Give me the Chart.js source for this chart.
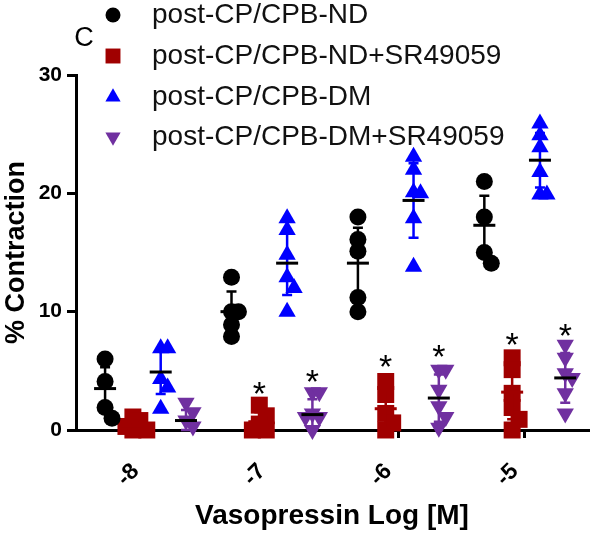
<!DOCTYPE html>
<html>
<head>
<meta charset="utf-8">
<script src="https://cdn.jsdelivr.net/npm/chart.js@4.4.0/dist/chart.umd.min.js"></script>
<style>
  html, body { margin: 0; padding: 0; background: #fff; }
</style>
</head>
<body>
<canvas id="myChart" width="600" height="533"></canvas>
<script>
// x categories (log M)
const doses = ['-8', '-7', '-6', '-5'];
const yTicks = [0, 10, 20, 30];

const names = ['post-CP/CPB-ND', 'post-CP/CPB-ND+SR49059', 'post-CP/CPB-DM', 'post-CP/CPB-DM+SR49059'];

// individual points per dose
const ndPoints = [[6.0, 4.1, 1.9, 1.0], [12.9, 10.0, 10.0, 8.9, 7.9], [18.0, 16.1, 15.1, 11.2, 10.0], [21.0, 18.0, 15.0, 14.1]];
const ndSrPoints = [[1.1, 0.8, 0.3, 0, 0], [2.1, 1.2, 0.5, 0, 0], [4.1, 3.0, 1.4, 0.6, 0], [6.1, 5.1, 3.1, 1.9, 0.9, 0]];
const dmPoints = [[6.9, 6.9, 4.3, 3.6, 1.8], [17.9, 16.9, 14.8, 12.9, 12.0, 10.0], [23.1, 22.0, 20.1, 20.0, 17.9, 13.8], [25.9, 24.9, 23.9, 21.8, 19.9, 19.9]];
const dmSrPoints = [[2.3, 1.5, 0.8, 0.3], [3.2, 3.2, 1.4, 1.1, 1.1, 0], [5.1, 5.1, 3.4, 2.0, 1.1, 0.2], [7.2, 6.1, 4.8, 4.4, 3.1, 1.4]];

// mean and SD bars
const ndMean = [3.5, 10.0, 14.1, 17.3];
const ndErr = [1.8, 1.7, 3.0, 2.5];
const ndSrMean = [0.3, 0.7, 1.8, 3.2];
const ndSrErr = [0.4, 0.8, 1.6, 2.3];
const dmMean = [4.9, 14.1, 19.4, 22.8];
const dmErr = [1.85, 2.7, 3.15, 2.3];
const dmSrMean = [0.8, 1.3, 2.7, 4.4];
const dmSrErr = [0.9, 1.3, 2.0, 2.1];

// significance stars (height of the asterisk)
const ndSrStars = [null, 3.8, 6.1, 7.9];
const dmSrStars = [null, 4.8, 6.9, 8.7];

const FONT = '"Liberation Sans", Arial, sans-serif';
const colors = ['#000000', '#a00000', '#0000ff', '#7030a0'];
const offsets = [-0.32, -0.1, 0.12, 0.32];
const styles = [
  { pointStyle: 'circle', radius: 8.5, rotation: 0 },
  { pointStyle: 'rect', radius: 12, rotation: 0 },
  { pointStyle: 'triangle', radius: 10, rotation: 0 },
  { pointStyle: 'triangle', radius: 10, rotation: 180 }
];
const allPoints = [ndPoints, ndSrPoints, dmPoints, dmSrPoints];
const means = [ndMean, ndSrMean, dmMean, dmSrMean];
const errs = [ndErr, ndSrErr, dmErr, dmSrErr];
const meanColors = ['#000000', '#a00000', '#000000', '#000000'];

// little beeswarm so overlapping points sit side by side
function spread(values, center) {
  const placed = [];
  const slots = [0, 1, -1, 2, -2, 3, -3];
  return values.map(v => {
    const k = slots.find(s => placed.every(p => p.k !== s || Math.abs(p.v - v) >= 1.0));
    placed.push({ k: k, v: v });
    return { x: center + k * 0.055, y: v };
  });
}

const datasets = allPoints.map((groups, i) => {
  let data = [];
  groups.forEach((vals, j) => { data = data.concat(spread(vals, j + offsets[i])); });
  return {
    label: names[i],
    data: data,
    backgroundColor: colors[i],
    borderColor: colors[i],
    borderWidth: 0,
    pointStyle: styles[i].pointStyle,
    pointRadius: styles[i].radius,
    pointHoverRadius: styles[i].radius,
    pointRotation: styles[i].rotation,
    clip: false
  };
});

const extras = {
  id: 'extras',
  afterDatasetsDraw(chart) {
    const ctx = chart.ctx;
    const x = chart.scales.x, y = chart.scales.y;
    ctx.save();
    means.forEach((m, i) => {
      m.forEach((v, j) => {
        const cx = x.getPixelForValue(j + offsets[i]);
        const top = y.getPixelForValue(v + errs[i][j]);
        const bot = y.getPixelForValue(Math.max(0, v - errs[i][j]));
        const mid = y.getPixelForValue(v);
        ctx.strokeStyle = colors[i];
        ctx.lineWidth = 2.5;
        ctx.beginPath();
        ctx.moveTo(cx, top); ctx.lineTo(cx, bot);
        ctx.moveTo(cx - 5, top); ctx.lineTo(cx + 5, top);
        ctx.moveTo(cx - 5, bot); ctx.lineTo(cx + 5, bot);
        ctx.stroke();
        ctx.lineWidth = 3;
        ctx.strokeStyle = meanColors[i];
        ctx.beginPath();
        ctx.moveTo(cx - 11, mid); ctx.lineTo(cx + 11, mid);
        ctx.stroke();
      });
    });
    // stars
    ctx.fillStyle = '#000';
    ctx.font = '34px ' + FONT;
    ctx.textAlign = 'center';
    ctx.textBaseline = 'alphabetic';
    [[ndSrStars, 1], [dmSrStars, 3]].forEach(([stars, i]) => {
      stars.forEach((s, j) => {
        if (s === null) return;
        ctx.fillText('*', x.getPixelForValue(j + offsets[i]), y.getPixelForValue(s) + 0.58 * 34);
      });
    });
    ctx.restore();
  },
  afterDraw(chart) {
    const ctx = chart.ctx;
    ctx.save();
    ctx.fillStyle = '#000';
    ctx.font = '27px ' + FONT;
    ctx.textAlign = 'center';
    ctx.textBaseline = 'middle';
    ctx.fillText('C', 84, 39);
    // legend
    const rows = [15, 56, 97, 137];
    names.forEach((n, i) => {
      ctx.fillStyle = colors[i];
      ctx.strokeStyle = colors[i];
      Chart.helpers.drawPoint(ctx, {
        pointStyle: styles[i].pointStyle,
        radius: styles[i].radius * 0.88,
        rotation: styles[i].rotation,
        borderWidth: 0
      }, 113, rows[i]);
      ctx.fillStyle = '#111';
      ctx.textAlign = 'left';
      ctx.font = '28px ' + FONT;
      ctx.fillText(n, 152, rows[i]);
    });
    ctx.restore();
  }
};

new Chart(document.getElementById('myChart'), {
  type: 'scatter',
  data: { datasets: datasets },
  options: {
    responsive: false,
    animation: false,
    events: [],
    layout: { padding: { top: 75, right: 3, left: 0, bottom: 0 } },
    plugins: { legend: { display: false }, tooltip: { enabled: false } },
    scales: {
      x: {
        type: 'linear',
        min: -0.55,
        max: 3.5,
        afterBuildTicks: s => { s.ticks = doses.map((d, k) => ({ value: k })); },
        afterFit: s => { s.height = 103; },
        border: { display: true, color: '#000', width: 3 },
        grid: { display: true, drawOnChartArea: false, drawTicks: true, tickLength: 8, color: '#000', lineWidth: 3 },
        ticks: {
          autoSkip: false,
          minRotation: 45,
          maxRotation: 45,
          padding: 20,
          labelOffset: -10,
          color: '#000',
          font: { family: FONT, size: 23, weight: 'bold' },
          callback: (v, k) => doses[k]
        },
        title: {
          display: true,
          text: 'Vasopressin Log [M]',
          color: '#000',
          font: { family: FONT, size: 28, weight: 'bold' },
          padding: { top: 0, bottom: 0 }
        }
      },
      y: {
        min: 0,
        max: 30,
        afterBuildTicks: s => { s.ticks = yTicks.map(v => ({ value: v })); },
        afterFit: s => { s.width = 76; },
        border: { display: true, color: '#000', width: 3 },
        grid: { display: true, drawOnChartArea: false, drawTicks: true, tickLength: 9, color: '#000', lineWidth: 3 },
        ticks: {
          padding: 5,
          color: '#000',
          font: { family: FONT, size: 21, weight: 'bold' }
        },
        title: {
          display: true,
          text: '% Contraction',
          color: '#000',
          font: { family: FONT, size: 27, weight: 'bold' },
          padding: { top: 0, bottom: 0 }
        }
      }
    }
  },
  plugins: [extras]
});
</script>
</body>
</html>
